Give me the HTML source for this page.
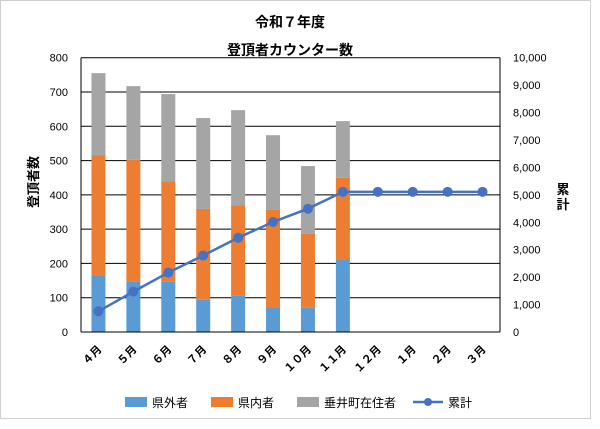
<!DOCTYPE html>
<html><head><meta charset="utf-8"><style>
body{margin:0;background:#fff;}
svg text{font-family:"Liberation Sans","Noto Sans CJK JP",sans-serif;}
</style></head><body>
<svg id="chart" width="600" height="424" xmlns="http://www.w3.org/2000/svg">
<rect x="0.5" y="0.5" width="590" height="418" fill="#fff" stroke="#d0d0d0"/>
<text x="290" y="27" text-anchor="middle" font-size="14" font-weight="bold">令和７年度</text>
<text x="290" y="55" text-anchor="middle" font-size="14" font-weight="bold">登頂者カウンター数</text>
<text transform="translate(38,182) rotate(-90)" text-anchor="middle" font-size="13" font-weight="bold">登頂者数</text>
<text x="563" y="200" text-anchor="middle" font-size="13" font-weight="bold"><tspan x="563" y="194">累</tspan><tspan x="563" y="209">計</tspan></text>
<g id="grid"></g><g id="bars"></g><g id="line"></g><g id="axes"></g>
<g>
<rect x="125" y="397" width="22" height="10" fill="#5b9bd5"/>
<text x="152" y="407" font-size="12">県外者</text>
<rect x="211" y="397" width="22" height="10" fill="#ed7d31"/>
<text x="238" y="407" font-size="12">県内者</text>
<rect x="297" y="397" width="22" height="10" fill="#a5a5a5"/>
<text x="324" y="407" font-size="12">垂井町在住者</text>
<line x1="413" y1="402" x2="443" y2="402" stroke="#4472c4" stroke-width="2.5"/>
<circle cx="428" cy="402" r="4" fill="#4472c4"/>
<text x="448" y="407" font-size="12">累計</text>
</g>
</svg>
<script>
const months=["４月","５月","６月","７月","８月","９月","１０月","１１月","１２月","１月","２月","３月"];
const outside=[166,148,148,94,107,70,72,210];
const inside=[350,354,292,265,263,286,214,240];
const tarui=[239,215,254,265,277,218,198,165];
const leftTicks=[0,100,200,300,400,500,600,700,800];
const rightTicks=["0","1,000","2,000","3,000","4,000","5,000","6,000","7,000","8,000","9,000","10,000"];
const NS="http://www.w3.org/2000/svg";
const L=81,R=500,T=57.7,B=332;
const band=(R-L)/months.length;
const xc=i=>L+band*(i+0.5);
const y=v=>B-(v/800)*(B-T);
const y2=v=>B-(v/10000)*(B-T);
function mk(tag,a,p){const e=document.createElementNS(NS,tag);for(const k in a)e.setAttribute(k,a[k]);document.getElementById(p).appendChild(e);return e;}
leftTicks.forEach((t,i)=>{
 if(t>0){const g=mk('line',{x1:L,x2:R,y1:y(t),y2:y(t),stroke:'#000','stroke-width':1},'grid');
 
 }
 const tx=mk('text',{x:68,y:y(t)+4,'text-anchor':'end','font-size':11},'axes');tx.textContent=t;
 
 
});
rightTicks.forEach((t,i)=>{
 const tx=mk('text',{x:513,y:y2(i*1000)+4,'font-size':11},'axes');tx.textContent=t;
 
 
});
[[L,'y-axis-line'],[R,'y2-axis-line']].forEach(([x,n])=>{const a=mk('line',{x1:x,x2:x,y1:T,y2:B,stroke:'#000'},'axes');
 
 });
const xa=mk('line',{x1:L,x2:R,y1:B,y2:B,stroke:'#000'},'axes');


months.forEach((m,i)=>{
 const tx=mk('text',{transform:`translate(${xc(i)+4},${B+18}) rotate(-45)`,'text-anchor':'end','font-size':11,'font-weight':'bold'},'axes');tx.textContent=m;
 
 
});
const series=[[outside,'#5b9bd5','bar-outside'],[inside,'#ed7d31','bar-inside'],[tarui,'#a5a5a5','bar-tarui']];
outside.forEach((_,i)=>{
 let base=0;
 series.forEach(([arr,c,n])=>{
  const v=arr[i];
  const r=mk('rect',{x:xc(i)-7,width:14,y:y(base+v),height:y(base)-y(base+v),fill:c},'bars');
  
  
  base+=v;
 });
});
const cum=[];let s=0;
months.forEach((m,i)=>{if(i<outside.length)s+=outside[i]+inside[i]+tarui[i];cum.push(s);});
const pl=mk('polyline',{points:cum.map((v,i)=>xc(i)+','+y2(v)).join(' '),fill:'none',stroke:'#4472c4','stroke-width':2.5},'line');


cum.forEach((v,i)=>{const c=mk('circle',{cx:xc(i),cy:y2(v),r:5,fill:'#4472c4'},'line');
 
 });
</script>
</body></html>
